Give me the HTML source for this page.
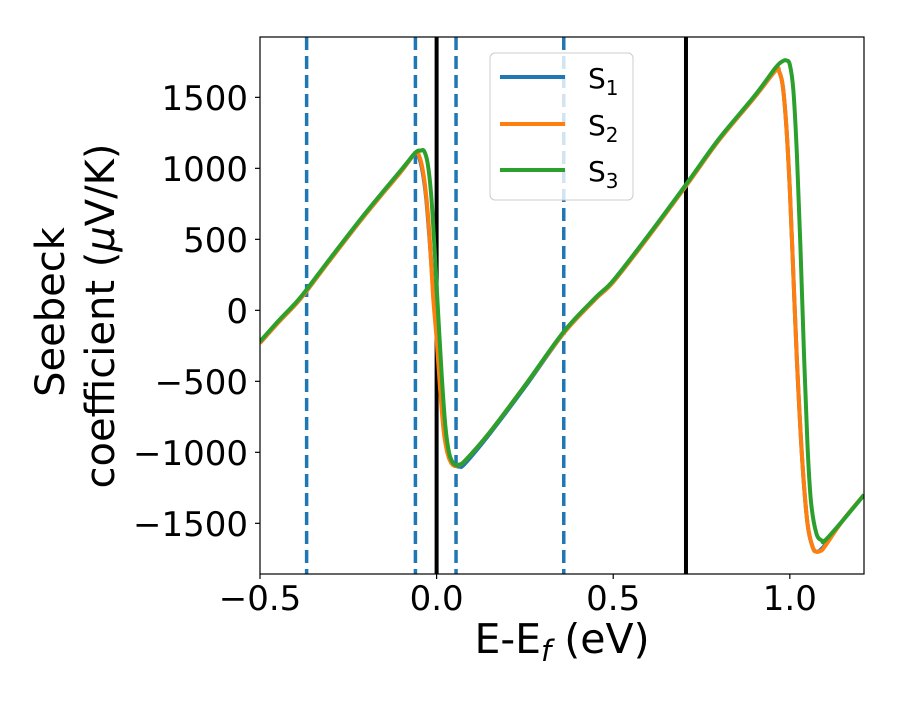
<!DOCTYPE html>
<html><head><meta charset="utf-8"><style>
body{margin:0;background:#fff;position:relative}
svg text{font-family:"DejaVu Sans","Liberation Sans",sans-serif;fill:#000}
</style></head><body>
<svg id="chart" width="900" height="700" viewBox="0 0 900 700">
<g id="marks"></g>
</svg>
<script>
const xTicks=[-0.5,0.0,0.5,1.0];
const xTickLabels=["\u22120.5","0.0","0.5","1.0"];
const yTicks=[-1500,-1000,-500,0,500,1000,1500];
const yTickLabels=["\u22121500","\u22121000","\u2212500","0","500","1000","1500"];
const dashedLines=[-0.368,-0.06,0.055,0.36];
const solidLines=[0.0,0.706];
const s1x=[-0.5,-0.45,-0.4,-0.37,-0.3,-0.2,-0.1,-0.06,-0.05,-0.04,-0.03,-0.02,-0.01,0,0.01,0.02,0.03,0.045,0.055,0.065,0.08,0.15,0.25,0.36,0.45,0.5,0.6,0.71,0.8,0.9,0.96,0.97,0.98,0.99,1.0,1.01,1.02,1.035,1.05,1.065,1.078,1.09,1.1,1.15,1.21];
const s1y=[-230,-90,40,130,360,680,980,1110,1080,980,800,500,150,-150,-500,-800,-980,-1070,-1095,-1100,-1080,-870,-540,-160,80,200,520,890,1200,1500,1690,1680,1580,1300,850,250,-350,-1050,-1500,-1670,-1700,-1680,-1650,-1480,-1300];
const s2x=[-0.5,-0.45,-0.4,-0.37,-0.3,-0.2,-0.1,-0.06,-0.05,-0.04,-0.03,-0.02,-0.01,0,0.01,0.02,0.03,0.04,0.05,0.06,0.08,0.15,0.25,0.36,0.45,0.5,0.6,0.71,0.8,0.9,0.96,0.97,0.98,0.99,1.0,1.01,1.02,1.035,1.05,1.065,1.075,1.09,1.1,1.15,1.21];
const s2y=[-230,-90,40,130,360,680,980,1110,1090,1000,820,520,100,-200,-560,-850,-1000,-1070,-1095,-1090,-1060,-860,-530,-160,80,200,520,890,1200,1500,1690,1680,1580,1300,850,250,-350,-1050,-1500,-1670,-1700,-1690,-1660,-1480,-1300];
const s3x=[-0.5,-0.45,-0.4,-0.37,-0.3,-0.2,-0.1,-0.06,-0.045,-0.035,-0.025,-0.015,-0.005,0.005,0.015,0.025,0.035,0.045,0.055,0.065,0.08,0.15,0.25,0.36,0.45,0.5,0.6,0.71,0.8,0.9,0.96,0.98,0.99,1.0,1.01,1.02,1.03,1.04,1.05,1.06,1.075,1.09,1.1,1.15,1.21];
const s3y=[-220,-80,50,140,370,690,990,1110,1125,1120,1030,800,400,-50,-480,-820,-1000,-1070,-1090,-1085,-1060,-860,-530,-150,90,210,530,900,1210,1510,1710,1755,1760,1730,1550,1100,450,-300,-950,-1350,-1570,-1620,-1620,-1480,-1300];
const X0=260,X1=864,Y0=37,Y1=574,xmin=-0.5,xmax=1.21,ymin=-1857,ymax=1925;
const sx=v=>X0+(v-xmin)/(xmax-xmin)*(X1-X0);
const sy=v=>Y1-(v-ymin)/(ymax-ymin)*(Y1-Y0);
const NS="http://www.w3.org/2000/svg";
const g=document.getElementById('marks');
function mk(tag,attrs,parent){const e=document.createElementNS(NS,tag);for(const k in attrs)e.setAttribute(k,attrs[k]);(parent||g).appendChild(e);return e;}
const clip=mk('clipPath',{id:'pc'});mk('rect',{x:X0,y:Y0,width:X1-X0,height:Y1-Y0},clip);
const plot=mk('g',{'clip-path':'url(#pc)'});


dashedLines.forEach(v=>{const l=mk('line',{x1:sx(v),x2:sx(v),y1:Y0,y2:Y1,stroke:'#1f77b4','stroke-width':3.5,'stroke-dasharray':'13 6'},plot);

});
solidLines.forEach(v=>{const l=mk('line',{x1:sx(v),x2:sx(v),y1:Y0,y2:Y1,stroke:'#000','stroke-width':4},plot);

});
const series=[[s1x,s1y,'#1f77b4','series-s1'],[s2x,s2y,'#ff7f0e','series-s2'],[s3x,s3y,'#2ca02c','series-s3']];
series.forEach(([xs,ys,c,n])=>{
 const pts=xs.map((v,i)=>[sx(v),sy(ys[i])]);
 let d='M'+pts[0][0]+','+pts[0][1];
 for(let i=0;i<pts.length-1;i++){const p0=pts[Math.max(0,i-1)],p1=pts[i],p2=pts[i+1],p3=pts[Math.min(pts.length-1,i+2)];
  d+=` C${p1[0]+(p2[0]-p0[0])/6},${p1[1]+(p2[1]-p0[1])/6} ${p2[0]-(p3[0]-p1[0])/6},${p2[1]-(p3[1]-p1[1])/6} ${p2[0]},${p2[1]}`;}
 const p=mk('path',{d:d,fill:'none',stroke:c,'stroke-width':4,'stroke-linejoin':'round'},plot);
 
 
});
const fr=mk('rect',{x:X0,y:Y0,width:X1-X0,height:Y1-Y0,fill:'none',stroke:'#000','stroke-width':1.2});


xTicks.forEach((v,i)=>{mk('line',{x1:sx(v),x2:sx(v),y1:Y1,y2:Y1+5,stroke:'#000','stroke-width':1.2});
 const t=mk('text',{x:sx(v),y:Y1+36,'text-anchor':'middle','font-size':34});t.textContent=xTickLabels[i];
 
 });
yTicks.forEach((v,i)=>{mk('line',{x1:X0-5,x2:X0,y1:sy(v),y2:sy(v),stroke:'#000','stroke-width':1.2});
 const t=mk('text',{x:X0-12,y:sy(v)+12.5,'text-anchor':'end','font-size':34});t.textContent=yTickLabels[i];
 
 });
</script>
<svg width="900" height="700" style="position:absolute;left:0;top:0">
<text x="562" y="653" text-anchor="middle" font-size="41">E-E<tspan font-style="italic" font-size="29" dy="8">f</tspan><tspan dy="-8"> (eV)</tspan></text>
<text transform="translate(64,312) rotate(-90)" text-anchor="middle" font-size="40">Seebeck</text>
<text transform="translate(114,316) rotate(-90)" text-anchor="middle" font-size="40">coefficient  (<tspan font-style="italic">μ</tspan>V/K)</text>
<g>
<rect x="490" y="53" width="143" height="147" rx="5" fill="#fff" fill-opacity="0.8" stroke="#ccc" stroke-width="1"/>
<line x1="500" x2="565" y1="77" y2="77" stroke="#1f77b4" stroke-width="4"/>
<text x="588" y="88" font-size="28">S<tspan font-size="20" dy="7">1</tspan></text>
<line x1="500" x2="565" y1="124" y2="124" stroke="#ff7f0e" stroke-width="4"/>
<text x="588" y="135" font-size="28">S<tspan font-size="20" dy="7">2</tspan></text>
<line x1="500" x2="565" y1="170" y2="170" stroke="#2ca02c" stroke-width="4"/>
<text x="588" y="181" font-size="28">S<tspan font-size="20" dy="7">3</tspan></text>
</g>
</svg>
</body></html>
